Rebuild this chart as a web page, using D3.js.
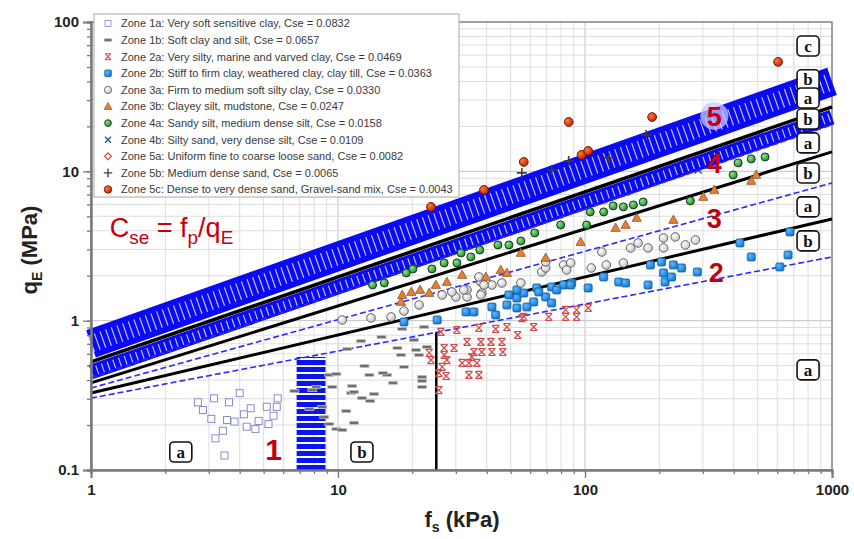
<!DOCTYPE html>
<html lang="en">
<head>
<meta charset="UTF-8">
<title>qE vs fs soil zones</title>
<script src="https://d3js.org/d3.v7.min.js"></script>
<style>
  body { margin: 0; background: #fff; }
  svg text { font-family: "Liberation Sans", Arial, sans-serif; }
</style>
</head>
<body>
<svg id="chart" width="854" height="539"></svg>
<script>
// zone boundary lines, qE (MPa) read at fs = 1 kPa and fs = 1000 kPa
var boundKind = ["band", "solid", "band", "dash", "solid", "dash", "solid", "dash"];
var boundWidth = [29, 3.5, 15, 1.6, 3, 1.6, 3, 1.6];
var boundQ1 = [0.70, 0.529, 0.453, 0.413, 0.383, 0.354, 0.328, 0.303];
var boundQ1000 = [40, 27.0, 23.1, 20.5, 13.5, 8.36, 4.80, 2.67];

// zone 1 column and zone 2 vertical limit
var columnFs = [6.8, 8.9];
var columnTopQ = 0.57;
var verticalFs = 25;

// measured points
var zone1aFs = [2.71, 2.84, 3.15, 3.62, 4.0, 3.07, 3.55, 3.81, 4.16, 4.43, 4.27, 4.63, 4.77, 5.15, 5.65, 5.70, 5.48, 5.23, 3.42, 3.19, 3.47];
var zone1aQe = [0.284, 0.252, 0.302, 0.284, 0.327, 0.220, 0.216, 0.211, 0.236, 0.259, 0.195, 0.188, 0.213, 0.265, 0.265, 0.302, 0.231, 0.203, 0.183, 0.163, 0.125];

var zone1bFs = [6.66, 7.66, 8.64, 8.80, 7.87, 9.48, 9.22, 9.85, 9.85, 10.8, 11.3, 11.6, 10.4, 10.9, 12.4, 15.0, 18.2, 22.3, 20.3, 17.4, 20.7, 22.9, 18.0, 21.3, 12.8, 18.5, 13.4, 15.8, 21.9, 21.9, 11.4, 21.9, 11.6, 14.0, 12.5, 9.22, 13.5, 16.7, 15.2, 8.17];
var zone1bQe = [0.338, 0.256, 0.264, 0.226, 0.343, 0.360, 0.433, 0.440, 0.188, 0.248, 0.328, 0.207, 0.185, 0.646, 0.731, 0.778, 0.880, 0.907, 0.743, 0.656, 0.636, 0.667, 0.589, 0.589, 0.497, 0.490, 0.433, 0.433, 0.420, 0.395, 0.365, 0.360, 0.333, 0.323, 0.303, 0.203, 0.290, 0.383, 0.446, 0.360];

var zone2aFs = [26.1, 30.3, 37.2, 43.5, 48.3, 53.4, 56.5, 62.0, 71.3, 83.5, 92.5, 103, 92.5, 83.5, 23.4, 26.9, 29.5, 33.3, 37.9, 41.6, 46.1, 26.9, 35.5, 38.2, 42.0, 46.5, 34.8, 23.8, 27.6, 31.8, 33.9, 36.5, 26.4, 27.4, 33.9, 37.2, 25.6, 25.6, 55.5];
var zone2aQe = [0.840, 0.866, 0.894, 0.880, 0.907, 0.802, 1.059, 0.907, 1.059, 1.18, 1.18, 1.216, 1.059, 1.059, 0.608, 0.656, 0.656, 0.720, 0.720, 0.720, 0.720, 0.589, 0.617, 0.617, 0.617, 0.617, 0.571, 0.545, 0.545, 0.521, 0.521, 0.521, 0.490, 0.426, 0.433, 0.433, 0.343, 0.446, 1.04];

var zone2bFs = [18.5, 25.2, 33.0, 35.5, 42.0, 43.5, 48.3, 53.0, 53.0, 56.5, 53.0, 62.0, 69.3, 73.3, 73.3, 82.0, 88.3, 119, 137, 146, 184, 180, 204, 208, 211, 228, 224, 63.8, 49.2, 58.2, 246, 285, 103, 87.5, 76.8, 65.0, 424, 471, 615, 664, 676];
var zone2bQe = [0.980, 1.011, 1.144, 1.144, 1.235, 1.092, 1.274, 1.419, 1.216, 1.533, 1.606, 1.335, 1.441, 1.314, 1.681, 1.734, 1.788, 1.962, 1.816, 1.788, 2.361, 1.734, 2.473, 2.087, 1.816, 2.361, 1.962, 1.656, 1.486, 1.235, 2.254, 2.119, 1.656, 1.734, 1.606, 1.557, 3.314, 2.672, 2.289, 2.755, 3.928];

var zone3aFs = [10.4, 13.6, 16.4, 18.5, 21.3, 26.4, 30.0, 33.3, 33.3, 37.9, 38.2, 42.0, 28.9, 32.3, 37.9, 39.0, 37.2, 46.1, 55.0, 66.8, 69.3, 69.3, 82.0, 87.5, 84.3, 106, 122, 143, 117, 153, 164, 180, 208, 208, 232, 255, 280];
var zone3aQe = [1.011, 1.043, 1.059, 1.161, 1.274, 1.486, 1.441, 1.441, 1.606, 1.816, 1.533, 1.734, 1.557, 1.606, 1.486, 1.734, 1.962, 1.788, 1.788, 2.119, 2.254, 2.473, 2.361, 2.435, 2.186, 2.254, 2.361, 2.435, 2.884, 3.069, 3.314, 3.069, 3.580, 3.069, 3.636, 3.214, 3.471];

var zone3bFs = [18.0, 18.2, 19.8, 21.5, 23.4, 24.9, 27.6, 31.8, 39.7, 45.6, 48.3, 55.0, 69.3, 96.0, 133, 146, 162, 228, 301, 334, 471, 493];
var zone3bQe = [1.335, 1.486, 1.557, 1.606, 1.533, 1.734, 1.816, 2.024, 1.962, 2.186, 2.087, 2.842, 2.630, 3.366, 4.178, 4.375, 4.874, 4.726, 6.74, 7.51, 8.63, 9.46];

var zone4aFs = [13.8, 15.4, 18.9, 20.1, 24.0, 26.9, 30.3, 31.5, 34.5, 37.5, 44.4, 49.2, 55.0, 62.6, 79.7, 101.5, 105, 119, 130, 143, 157, 172, 267, 398, 417, 471, 536];
var zone4aQe = [1.734, 1.788, 2.087, 2.220, 2.220, 2.435, 2.435, 2.842, 2.672, 2.975, 3.214, 3.214, 3.418, 3.868, 4.375, 4.375, 5.35, 5.35, 5.87, 5.78, 5.96, 6.24, 6.34, 9.46, 11.39, 12.11, 12.49];

var zone4bFs = [46.9, 78.3, 146, 184, 287, 417, 615];
var zone4bQe = [3.93, 5.11, 7.28, 8.76, 10.2, 14.35, 18.1];

var zone5aFs = [40, 70, 100, 200, 500];
var zone5aQe = [5.9, 8.1, 10.1, 15.1, 25.8];

var zone5bFs = [55.5, 73.3, 85.9, 125, 177];
var zone5bQe = [9.76, 10.2, 11.74, 12.3, 17.5];

var zone5cFs = [23.8, 39.0, 56.5, 85.9, 96.9, 103, 187, 605];
var zone5cQe = [5.78, 7.51, 11.56, 21.4, 12.88, 13.70, 23.1, 54.1];

var legendLabels = [
  "Zone 1a: Very soft sensitive clay, Cse = 0.0832",
  "Zone 1b: Soft clay and silt, Cse = 0.0657",
  "Zone 2a: Very silty, marine and varved clay, Cse = 0.0469",
  "Zone 2b: Stiff to firm clay, weathered clay, clay till, Cse = 0.0363",
  "Zone 3a: Firm to medium soft silty clay, Cse = 0.0330",
  "Zone 3b: Clayey silt, mudstone, Cse = 0.0247",
  "Zone 4a: Sandy silt, medium dense silt, Cse = 0.0158",
  "Zone 4b: Silty sand, very dense silt, Cse = 0.0109",
  "Zone 5a: Uniform fine to coarse loose sand, Cse = 0.0082",
  "Zone 5b: Medium dense sand, Cse = 0.0065",
  "Zone 5c: Dense to very dense sand, Gravel-sand mix, Cse = 0.0043"
];
var markerTypes = ["sqOpen", "dash", "xbar", "sqFill", "circWhite", "tri", "circGreen", "xBlue", "diamond", "plus", "circRed"];

// boxed letters on the right edge and bottom
var edgeLetters = ["c", "b", "a", "b", "a", "b", "a", "b", "a"];
var edgeQe = [69, 41, 31, 22.4, 15.5, 9.75, 5.78, 3.42, 0.468];
var edgeFs = 800;
var bottomLetters = ["a", "b"];
var bottomFs = [2.31, 12.5];
var bottomQe = 0.132;

// zone numbers
var zoneNums = ["1", "2", "3", "4", "5"];
var zoneNumFs = [5.49, 340, 334, 334, 334];
var zoneNumQe = [0.138, 2.12, 4.87, 11.4, 23.5];

var yTicks = [0.1, 1, 10, 100];
var xTicks = [1, 10, 100, 1000];

var svg = d3.select("#chart");
var x = d3.scaleLog().domain([1, 1000]).range([91, 832]);
var y = d3.scaleLog().domain([0.1, 100]).range([470, 22]);

var defs = svg.append("defs");
function radial(id, c0, c1) {
  var g = defs.append("radialGradient").attr("id", id).attr("cx", "35%").attr("cy", "35%").attr("r", "70%");
  g.append("stop").attr("offset", "0%").attr("stop-color", c0);
  g.append("stop").attr("offset", "100%").attr("stop-color", c1);
}
radial("gWhite", "#ffffff", "#c4c4c4");
radial("gGreen", "#8fe08f", "#1f8a2a");
radial("gRed", "#ff7a3a", "#c41f04");
radial("gBlue", "#5ab8ff", "#1478d0");

// minor values for the grid
var minorX = [], minorY = [];
[1, 10, 100].forEach(function (d) { for (var m = 1; m <= 9; m++) minorX.push(d * m); });
minorX.push(1000);
[0.1, 1, 10].forEach(function (d) { for (var m = 1; m <= 9; m++) minorY.push(+(d * m).toPrecision(3)); });
minorY.push(100);

var grid = svg.append("g");
grid.selectAll(".gx").data(minorX).enter().append("line")
  .attr("x1", function (d) { return x(d); }).attr("x2", function (d) { return x(d); })
  .attr("y1", y(0.1)).attr("y2", y(100))
  .attr("stroke", function (d) { return xTicks.indexOf(d) >= 0 ? "#c4c4c4" : "#dedede"; })
  .attr("stroke-width", 1);
grid.selectAll(".gy").data(minorY).enter().append("line")
  .attr("x1", x(1)).attr("x2", x(1000))
  .attr("y1", function (d) { return y(d); }).attr("y2", function (d) { return y(d); })
  .attr("stroke", function (d) { return yTicks.indexOf(d) >= 0 ? "#c4c4c4" : "#dedede"; })
  .attr("stroke-width", 1);

// frame
svg.append("rect").attr("x", x(1)).attr("y", y(100)).attr("width", x(1000) - x(1)).attr("height", y(0.1) - y(100))
  .attr("fill", "none").attr("stroke", "#8a8a8a").attr("stroke-width", 1.5);

function markerPath(sel, type) {
  var g = sel;
  switch (type) {
    case "sqOpen":
      g.append("rect").attr("x", -3.5).attr("y", -3.5).attr("width", 7).attr("height", 7)
        .attr("fill", "#fff").attr("stroke", "#8a8ad2").attr("stroke-width", 1); break;
    case "dash":
      g.append("rect").attr("x", -4.5).attr("y", -1.6).attr("width", 9).attr("height", 3.2)
        .attr("fill", "#6e6e6e").attr("stroke", "#c6c6c6").attr("stroke-width", 0.7); break;
    case "xbar":
      g.append("path").attr("d", "M-3.5,-3.5L3.5,3.5M3.5,-3.5L-3.5,3.5M-3.5,-3.5H3.5M-3.5,3.5H3.5")
        .attr("fill", "none").attr("stroke", "#d24c4c").attr("stroke-width", 1.2); break;
    case "sqFill":
      g.append("rect").attr("x", -4).attr("y", -4).attr("width", 8).attr("height", 8).attr("rx", 1.5)
        .attr("fill", "url(#gBlue)").attr("stroke", "#145d9c").attr("stroke-width", 0.8); break;
    case "circWhite":
      g.append("circle").attr("r", 4.3).attr("fill", "url(#gWhite)").attr("stroke", "#555").attr("stroke-width", 0.9); break;
    case "tri":
      g.append("path").attr("d", "M0,-4.8L4.6,3.4H-4.6Z").attr("fill", "#e2823a").attr("stroke", "#8f4c1c").attr("stroke-width", 0.8); break;
    case "circGreen":
      g.append("circle").attr("r", 4).attr("fill", "url(#gGreen)").attr("stroke", "#123f14").attr("stroke-width", 1); break;
    case "xBlue":
      g.append("path").attr("d", "M-3.5,-3.5L3.5,3.5M3.5,-3.5L-3.5,3.5")
        .attr("fill", "none").attr("stroke", "#2c4c9c").attr("stroke-width", 1.5); break;
    case "diamond":
      g.append("path").attr("d", "M0,-4L4,0L0,4L-4,0Z").attr("fill", "#fff").attr("stroke", "#e03a3a").attr("stroke-width", 1.4); break;
    case "plus":
      g.append("path").attr("d", "M-5,0H5M0,-5V5").attr("stroke", "#3c3c3c").attr("stroke-width", 1.6); break;
    case "circRed":
      g.append("circle").attr("r", 4.4).attr("fill", "url(#gRed)").attr("stroke", "#7a1800").attr("stroke-width", 1); break;
  }
}

var zones = [
  { fs: zone1aFs, qe: zone1aQe, type: "sqOpen" },
  { fs: zone1bFs, qe: zone1bQe, type: "dash" },
  { fs: zone2aFs, qe: zone2aQe, type: "xbar" },
  { fs: zone2bFs, qe: zone2bQe, type: "sqFill" },
  { fs: zone3aFs, qe: zone3aQe, type: "circWhite" },
  { fs: zone3bFs, qe: zone3bQe, type: "tri" },
  { fs: zone4aFs, qe: zone4aQe, type: "circGreen" },
  { fs: zone4bFs, qe: zone4bQe, type: "xBlue" },
  { fs: zone5aFs, qe: zone5aQe, type: "diamond" },
  { fs: zone5bFs, qe: zone5bQe, type: "plus" },
  { fs: zone5cFs, qe: zone5cQe, type: "circRed" }
];

function drawZone(z) {
  var g = svg.append("g");
  z.fs.forEach(function (f, i) {
    var m = g.append("g").attr("transform", "translate(" + x(f) + "," + y(z.qe[i]) + ")");
    markerPath(m, z.type);
  });
}

// points hidden under the band go first
drawZone(zones[7]);
drawZone(zones[8]);

// zone 1 column (hatched)
var colX = Math.sqrt(columnFs[0] * columnFs[1]);
svg.append("line")
  .attr("x1", x(colX)).attr("x2", x(colX))
  .attr("y1", y(0.1)).attr("y2", y(columnTopQ))
  .attr("stroke", "#0a14f0").attr("stroke-width", x(columnFs[1]) - x(columnFs[0]))
  .attr("stroke-dasharray", "5,2");

// boundary lines
function qAt(i, f) {
  var l1 = Math.log10(boundQ1[i]), l2 = Math.log10(boundQ1000[i]);
  return Math.pow(10, l1 + (l2 - l1) * Math.log10(f) / 3);
}
var order = [0, 2, 1, 3, 4, 5, 6, 7];
order.forEach(function (i) {
  var x1 = x(1), x2 = x(1000), y1 = y(boundQ1[i]), y2 = y(boundQ1000[i]);
  if (boundKind[i] === "band") {
    svg.append("line").attr("x1", x1).attr("y1", y1).attr("x2", x2).attr("y2", y2)
      .attr("stroke", "#0a0af5").attr("stroke-width", boundWidth[i]);
    svg.append("line").attr("x1", x1).attr("y1", y1).attr("x2", x2).attr("y2", y2)
      .attr("stroke", "#ffffff").attr("stroke-opacity", 0.75).attr("stroke-width", boundWidth[i] * 0.6)
      .attr("stroke-dasharray", "1.2,4.8");
  } else if (boundKind[i] === "solid") {
    svg.append("line").attr("x1", x1).attr("y1", y1).attr("x2", x2).attr("y2", y2)
      .attr("stroke", "#000").attr("stroke-width", boundWidth[i]);
  } else {
    svg.append("line").attr("x1", x1).attr("y1", y1).attr("x2", x2).attr("y2", y2)
      .attr("stroke", "#2a2aff").attr("stroke-width", boundWidth[i]).attr("stroke-dasharray", "6,3");
  }
});

// vertical limit between zone 1b and 2a
svg.append("line")
  .attr("x1", x(verticalFs)).attr("x2", x(verticalFs))
  .attr("y1", y(0.1)).attr("y2", y(qAt(7, verticalFs)))
  .attr("stroke", "#000").attr("stroke-width", 2.5);

[0, 1, 2, 3, 4, 5, 6, 9, 10].forEach(function (i) { drawZone(zones[i]); });

// axes
var axisColor = "#7a7a7a";
var yAxis = svg.append("g").attr("transform", "translate(" + x(1) + ",0)")
  .call(d3.axisLeft(y).tickValues(yTicks).tickFormat(d3.format("~g")).tickSize(8).tickPadding(4));
var yMinor = svg.append("g").attr("transform", "translate(" + x(1) + ",0)")
  .call(d3.axisLeft(y).tickValues(minorY).tickFormat("").tickSize(4));
var xAxis = svg.append("g").attr("transform", "translate(0," + y(0.1) + ")")
  .call(d3.axisBottom(x).tickValues(xTicks).tickFormat(d3.format("~g")).tickSize(8).tickPadding(6));
var xMinor = svg.append("g").attr("transform", "translate(0," + y(0.1) + ")")
  .call(d3.axisBottom(x).tickValues(minorX).tickFormat("").tickSize(4));
[yAxis, yMinor, xAxis, xMinor].forEach(function (a) {
  a.select(".domain").attr("stroke", axisColor).attr("stroke-width", 2);
  a.selectAll(".tick line").attr("stroke", axisColor).attr("stroke-width", 1.3);
  a.selectAll(".tick text").attr("font-size", 15).attr("font-weight", "bold").attr("fill", "#222")
    .style("font-family", "'Liberation Sans', Arial, sans-serif");
});

// axis titles
var yt = svg.append("text").attr("transform", "translate(37,250) rotate(-90)")
  .attr("text-anchor", "middle").attr("font-size", 22).attr("font-weight", "bold").attr("fill", "#222");
yt.append("tspan").text("q");
yt.append("tspan").text("E").attr("font-size", 14).attr("dy", 5);
yt.append("tspan").text(" (MPa)").attr("dy", -5);

var xt = svg.append("text").attr("x", 462).attr("y", 527)
  .attr("text-anchor", "middle").attr("font-size", 22).attr("font-weight", "bold").attr("fill", "#222");
xt.append("tspan").text("f");
xt.append("tspan").text("s").attr("font-size", 14).attr("dy", 5);
xt.append("tspan").text(" (kPa)").attr("dy", -5);

// formula
var fm = svg.append("text").attr("x", x(1.19)).attr("y", y(3.63))
  .attr("font-size", 27).attr("fill", "#c8000a");
fm.append("tspan").text("C");
fm.append("tspan").text("se").attr("font-size", 19).attr("dy", 7);
fm.append("tspan").text(" = f").attr("dy", -7);
fm.append("tspan").text("p").attr("font-size", 19).attr("dy", 7);
fm.append("tspan").text("/q").attr("dy", -7);
fm.append("tspan").text("E").attr("font-size", 19).attr("dy", 7);

// zone numbers
svg.append("circle").attr("cx", x(zoneNumFs[4])).attr("cy", y(zoneNumQe[4]))
  .attr("r", 14).attr("fill", "#c8c8ff").attr("fill-opacity", 0.75);
svg.selectAll(".znum").data(zoneNums).enter().append("text")
  .attr("x", function (d, i) { return x(zoneNumFs[i]); })
  .attr("y", function (d, i) { return y(zoneNumQe[i]); })
  .attr("dy", "0.36em").attr("text-anchor", "middle")
  .attr("font-size", function (d, i) { return i === 0 ? 30 : 27; })
  .attr("font-weight", "bold").attr("fill", "#c4000c")
  .text(function (d) { return d; });

// boxed letters
function boxLetter(cx, cy, t) {
  svg.append("rect").attr("x", cx - 11).attr("y", cy - 10).attr("width", 22).attr("height", 20).attr("rx", 4)
    .attr("fill", "#fff").attr("stroke", "#111").attr("stroke-width", 1.6);
  svg.append("text").attr("x", cx).attr("y", cy).attr("dy", "0.33em").attr("text-anchor", "middle")
    .attr("font-size", 17).attr("font-weight", "bold").style("font-family", "'Liberation Serif', serif")
    .attr("fill", "#111").text(t);
}
edgeLetters.forEach(function (t, i) { boxLetter(x(edgeFs), y(edgeQe[i]), t); });
bottomLetters.forEach(function (t, i) { boxLetter(x(bottomFs[i]), y(bottomQe), t); });

// legend
var lg = svg.append("g").attr("transform", "translate(94,14)");
lg.append("rect").attr("width", 365).attr("height", 183).attr("fill", "#fff")
  .attr("stroke", "#a8a8a8").attr("stroke-width", 1);
legendLabels.forEach(function (t, i) {
  var row = lg.append("g").attr("transform", "translate(0," + (9.5 + i * 16.6) + ")");
  var m = row.append("g").attr("transform", "translate(14,0) scale(0.85)");
  markerPath(m, markerTypes[i]);
  row.append("text").attr("x", 27).attr("dy", "0.35em").attr("font-size", 11).attr("fill", "#3a3a3a").text(t);
});
</script>
</body>
</html>
